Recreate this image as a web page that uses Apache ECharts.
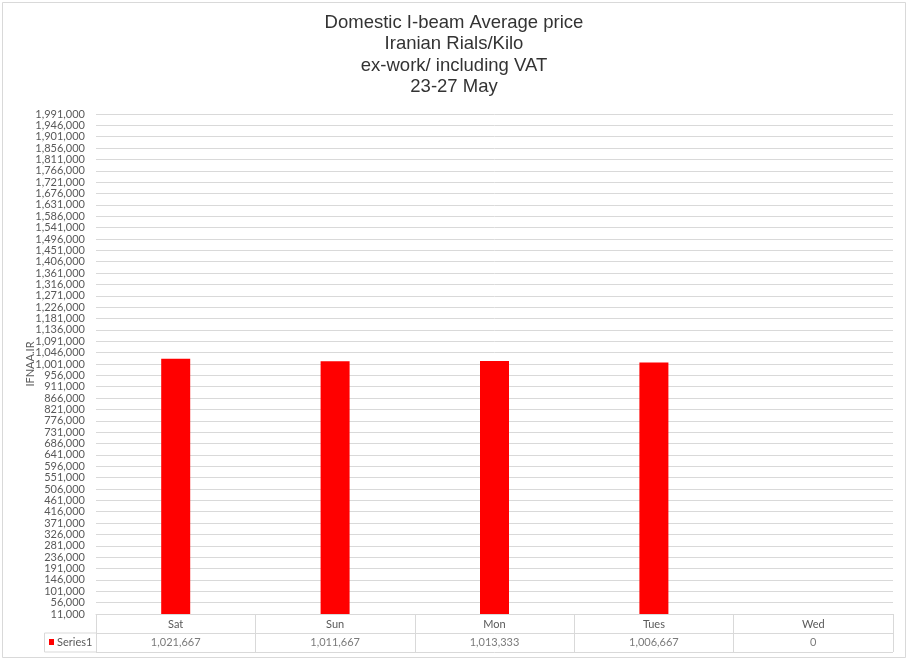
<!DOCTYPE html>
<html>
<head>
<meta charset="utf-8">
<script src="https://cdn.jsdelivr.net/npm/echarts@6/dist/echarts.min.js"></script>
<style>
  html, body { margin: 0; padding: 0; background: #fff; }
  #chart { width: 908px; height: 659px; }
</style>
</head>
<body>
<div id="chart"></div>
<script>
// chart data
var days = ['Sat', 'Sun', 'Mon', 'Tues', 'Wed'];
var prices = [1021667, 1011667, 1013333, 1006667, 0];
var seriesName = 'Series1';
var tickStart = 11000;
var tickStep = 45000;
var tickEnd = 1991000;

var yTicks = [];
for (var t = tickStart; t <= tickEnd; t += tickStep) yTicks.push(t);

function fmt(v) {
  return Number(v).toLocaleString('en-US');
}

var textColor = '#595959';
var lineColor = '#d9d9d9';
var labelFont = 'Lato, "Liberation Sans", sans-serif';

var chart = echarts.init(document.getElementById('chart'));
chart.setOption({
  backgroundColor: '#ffffff',
  animation: false,
  title: {
    text: 'Domestic I-beam Average price\nIranian Rials/Kilo\nex-work/ including VAT\n23-27 May',
    left: 'center',
    top: 7,
    textStyle: {
      fontFamily: '"Liberation Sans", Arial, sans-serif',
      fontSize: 18.5,
      fontWeight: 'normal',
      color: '#333333',
      lineHeight: 21.5
    }
  },
  grid: [
    { left: 96, right: 15, top: 114, bottom: 45 },
    { left: 96, right: 15, top: 614, height: 38 }
  ],
  xAxis: [
    {
      type: 'category',
      gridIndex: 0,
      data: days,
      axisLine: { lineStyle: { color: lineColor } },
      axisTick: { show: false },
      axisLabel: { color: textColor, fontSize: 11, fontFamily: labelFont, margin: 5 },
      splitLine: { show: false }
    },
    {
      type: 'category',
      gridIndex: 1,
      data: days,
      axisLine: { show: false },
      axisTick: { show: false },
      axisLabel: { show: false },
      splitLine: { show: true, lineStyle: { color: lineColor } }
    }
  ],
  yAxis: [
    {
      type: 'value',
      gridIndex: 0,
      min: tickStart,
      max: tickEnd,
      name: 'IFNAA.IR',
      nameLocation: 'middle',
      nameRotate: 90,
      nameGap: 60,
      nameMoveOverlap: false,
      nameTextStyle: { color: textColor, fontSize: 11, fontFamily: labelFont },
      axisLine: { show: false },
      axisTick: { show: false, customValues: yTicks },
      axisLabel: {
        customValues: yTicks,
        color: textColor,
        fontSize: 11,
        fontFamily: labelFont,
        margin: 11,
        formatter: function (v) { return fmt(v); }
      },
      splitLine: { show: true, lineStyle: { color: lineColor } }
    },
    {
      type: 'category',
      gridIndex: 1,
      inverse: true,
      data: ['days', 'vals'],
      axisLine: { show: false },
      axisTick: { show: false },
      axisLabel: { show: false },
      splitLine: { show: true, lineStyle: { color: lineColor } }
    }
  ],
  series: [
    {
      name: seriesName,
      type: 'bar',
      xAxisIndex: 0,
      yAxisIndex: 0,
      data: prices,
      barWidth: 29,
      clip: true,
      itemStyle: { color: '#ff0000' }
    },
    {
      name: seriesName + ' table',
      type: 'scatter',
      xAxisIndex: 1,
      yAxisIndex: 1,
      symbolSize: 0,
      data: prices.map(function (v, i) { return [days[i], 'vals', v]; }),
      label: {
        show: true,
        position: 'inside',
        color: textColor,
        fontSize: 11,
        fontFamily: labelFont,
        formatter: function (p) { return fmt(p.value[2]); }
      }
    }
  ],
  graphic: [
    {
      type: 'rect',
      shape: { x: 2.5, y: 2.5, width: 903, height: 655 },
      style: { fill: 'none', stroke: lineColor, lineWidth: 1 },
      silent: true
    },
    {
      type: 'rect',
      shape: { x: 44.5, y: 633, width: 52, height: 19 },
      style: { fill: 'none', stroke: lineColor, lineWidth: 1 },
      silent: true
    },
    {
      type: 'rect',
      shape: { x: 49, y: 639, width: 5, height: 6 },
      style: { fill: '#ff0000' },
      silent: true
    },
    {
      type: 'text',
      x: 57,
      y: 642.5,
      style: {
        text: seriesName,
        fill: textColor,
        fontSize: 11,
        fontFamily: labelFont,
        verticalAlign: 'middle'
      },
      silent: true
    }
  ]
});
</script>
</body>
</html>
